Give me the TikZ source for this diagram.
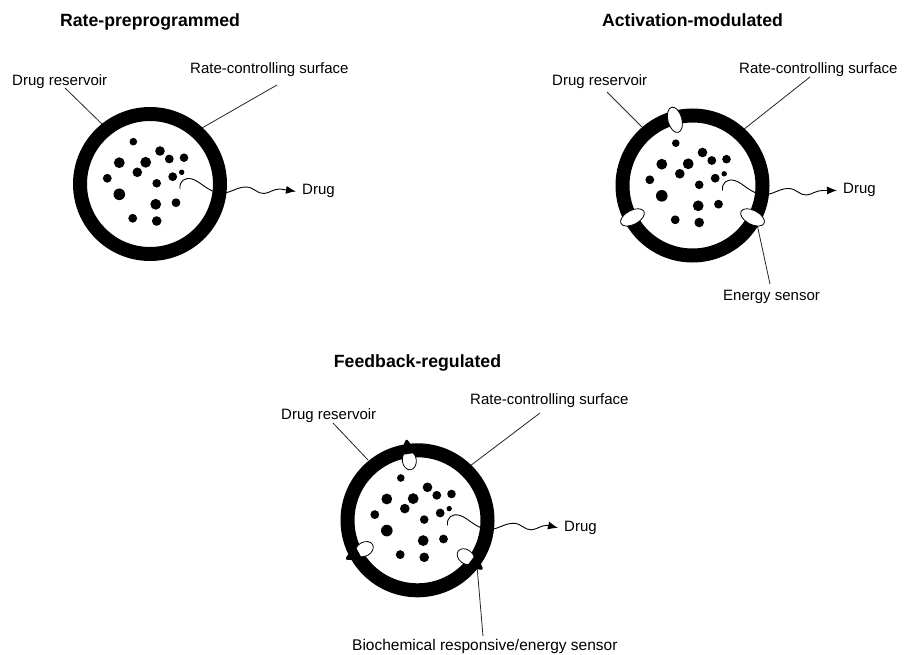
\documentclass[tikz,border=0pt]{standalone}
\usepackage{fontspec}
\setmainfont{Liberation Sans}
\usetikzlibrary{arrows.meta}
\newcommand{\drugdots}[1]{%
  \foreach \dx/\dy/\rr in {-16.7/-42.3/3.8, 10/-33/4.8, 19.3/-25/4.4, 34/-26.3/4.3,
     -30.7/-21.3/5.4, -4.3/-21.7/5.4, -12.7/-11.7/4.8, 31.7/-11.7/2.7, 22.7/-7.3/4.4,
     -42.7/-5.7/4.4, 6.7/-0.7/4.3, -30.7/10.3/5.8, 5.7/20.3/5.4, 26/18.7/4.4,
     -17.3/34.3/4.4, 6.7/37/4.8}
    {\fill ([shift={(\dx,\dy)}]#1) circle[radius=\rr pt];}%
}
\newcommand{\drugwave}[2]{%
  \draw[wave] ([shift={(30,5)}]#1) .. controls ([shift={(29,-3)}]#1) and ([shift={(35,-7)}]#1) ..
    ([shift={(42,-5)}]#1) .. controls ([shift={(50,-3)}]#1) and ([shift={(58,8)}]#1) ..
    ([shift={(70,9)}]#1) .. controls ([shift={(80,10)}]#1) and ([shift={(86,3)}]#1) ..
    ([shift={(96,3)}]#1) .. controls ([shift={(104,3)}]#1) and ([shift={(107,10)}]#1) ..
    ([shift={(114,9.5)}]#1) .. controls ([shift={(120,9)}]#1) and ([shift={(123,5)}]#1) ..
    ([shift={(130,5)}]#1) -- (#2.west);%
}
\newcommand{\whitesensor}[2]{%
  \begin{scope}[shift={(#1)}, rotate=#2]
    \draw[sensorA] (68,0) ellipse[x radius=13pt, y radius=7pt];
  \end{scope}%
}
\newcommand{\fbsensor}[2]{%
  \begin{scope}[shift={(#1)}, rotate=#2]
    \draw[sensorA] (60.5,0) ellipse[x radius=9.5pt, y radius=7pt];
    \fill[black, rounded corners=3pt] (67,-8.5) -- (83,0) -- (67,8.5) -- cycle;
  \end{scope}%
}
\begin{document}
\begin{tikzpicture}[x=1pt,y=-1pt,
  ring/.style={line width=14pt, draw=black},
  lead/.style={line width=0.8pt, draw=black!85},
  lab/.style={font=\fontsize{15}{18}\selectfont, inner sep=0pt, anchor=base west},
  druglab/.style={font=\fontsize{15}{18}\selectfont, inner ysep=0pt, inner xsep=6pt, anchor=base west},
  ttl/.style={font=\fontsize{17.7}{21}\selectfont\bfseries, inner sep=0pt, anchor=base},
  wave/.style={line width=0.9pt, -{Latex[length=10pt,width=8pt]}},
  sensorA/.style={fill=white, draw=black, line width=0.8pt}]
\fill[white] (0,0) rectangle (906,655);
\useasboundingbox (0,0) rectangle (906,655);

% centres
\coordinate (c1) at (150,184);
\coordinate (c2) at (692.5,185.5);
\coordinate (c3) at (417.5,520.3);

% titles
\node[ttl] (t1) at (150,26.7) {Rate-preprogrammed};
\node[ttl] (t2) at (692.5,26.7) {Activation-modulated};
\node[ttl] (t3) at (417.5,368) {Feedback-regulated};

% labels
\node[lab] (dr1) at (12,86) {Drug reservoir};
\node[lab] (rc1) at (190,73.3) {Rate-controlling surface};
\node[druglab] (drug1) at (296,195) {Drug};

\node[lab] (dr2) at (552,86) {Drug reservoir};
\node[lab] (rc2) at (739,74) {Rate-controlling surface};
\node[druglab] (drug2) at (837,194) {Drug};
\node[lab] (es2) at (723,300.7) {Energy sensor};

\node[lab] (dr3) at (281,420) {Drug reservoir};
\node[lab] (rc3) at (470,405) {Rate-controlling surface};
\node[druglab] (drug3) at (558,531.5) {Drug};
\node[lab, font=\fontsize{15.5}{18}\selectfont] (bio3) at (352,650) {Biochemical responsive/energy sensor};

% leader end points
\coordinate (dr1a) at (65,88);   \coordinate (dr1b) at (103,125);
\coordinate (rc1a) at (277,85);  \coordinate (rc1b) at (202,128);
\coordinate (dr2a) at (607,92);  \coordinate (dr2b) at (642,127);
\coordinate (rc2a) at (810,77);  \coordinate (rc2b) at (743,130);
\coordinate (es2a) at (770,284); \coordinate (es2b) at (757,224);
\coordinate (dr3a) at (333,423); \coordinate (dr3b) at (368,460);
\coordinate (rc3a) at (540,413); \coordinate (rc3b) at (470,466);
\coordinate (bio3a) at (483,636); \coordinate (bio3b) at (477,566);

\draw[lead] (dr1a) -- (dr1b);
\draw[lead] (rc1a) -- (rc1b);
\draw[lead] (dr2a) -- (dr2b);
\draw[lead] (rc2a) -- (rc2b);
\draw[lead] (es2a) -- (es2b);
\draw[lead] (dr3a) -- (dr3b);
\draw[lead] (rc3a) -- (rc3b);
\draw[lead] (bio3a) -- (bio3b);

% rings
\draw[ring] (c1) circle[radius=70pt];
\draw[ring] (c2) circle[radius=70pt];
\draw[ring] (c3) circle[radius=70pt];

% sensors
\whitesensor{c2}{105}
\whitesensor{c2}{208}
\whitesensor{c2}{-28}
\fbsensor{c3}{97.8}
\fbsensor{c3}{208.5}
\fbsensor{c3}{-37}

% drug particles
\drugdots{c1}
\drugdots{c2}
\drugdots{c3}

% release paths
\drugwave{c1}{drug1}
\drugwave{c2}{drug2}
\drugwave{c3}{drug3}
\end{tikzpicture}
\end{document}
